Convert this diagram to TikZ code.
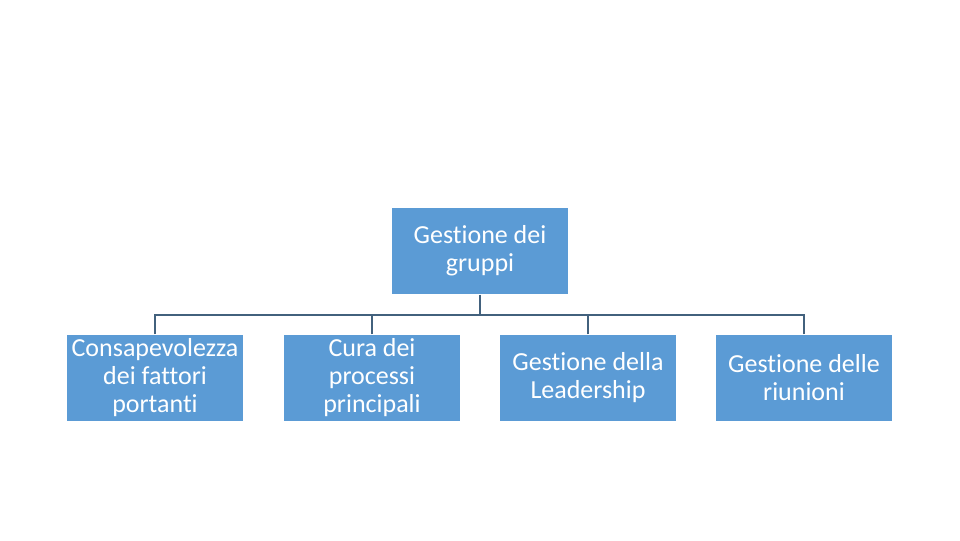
\documentclass[tikz,border=0pt]{standalone}
\usepackage{fontspec}
\setmainfont[Ligatures={NoCommon}]{Carlito}
\definecolor{boxblue}{HTML}{5B9BD5}
\definecolor{linecol}{HTML}{42617D}
\begin{document}
\begin{tikzpicture}[x=0.75pt,y=-0.75pt,
  orgbox/.style={fill=boxblue, draw=none, text=white, minimum width=132pt, minimum height=65pt,
    align=center, inner sep=1pt, font=\fontsize{19.5}{21}\selectfont},
  conn/.style={draw=linecol, line width=1.5pt}]
\useasboundingbox (0,0) rectangle (960,540);
\node[orgbox] (top) at (480,251) {Gestione dei\\gruppi};
\node[orgbox] (c1) at (155,378) {Consapevolezza\\dei fattori\\portanti};
\node[orgbox] (c2) at (372,378) {Cura dei\\processi\\principali};
\node[orgbox] (c3) at (588,378) {Gestione della\\Leadership};
\node[orgbox] (c4) at (804,378) {Gestione delle\\riunioni};
\coordinate (bus) at (480,315);
\draw[conn] (top.south) -- (bus);
\draw[conn] (c1.north) |- (bus);
\draw[conn] (c2.north) |- (bus);
\draw[conn] (c3.north) |- (bus);
\draw[conn] (c4.north) |- (bus);
\end{tikzpicture}
\end{document}
